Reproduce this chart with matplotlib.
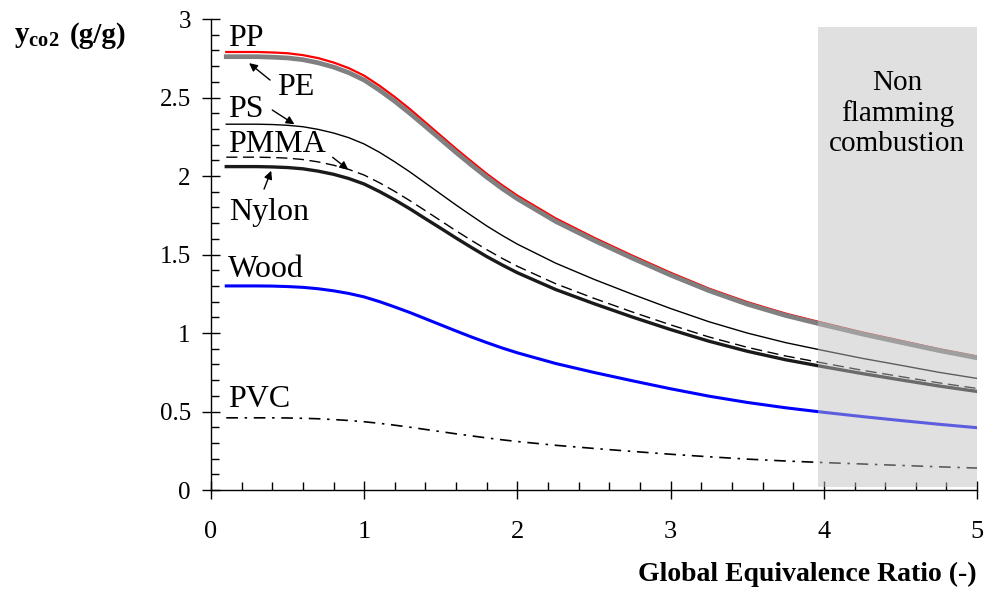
import matplotlib
matplotlib.use("Agg")
import matplotlib.pyplot as plt
from matplotlib.ticker import MultipleLocator

plt.rcParams['font.family'] = ['Liberation Serif', 'DejaVu Serif']
plt.rcParams['mathtext.fontset'] = 'custom'
plt.rcParams['mathtext.rm'] = 'Liberation Serif'
plt.rcParams['mathtext.bf'] = 'Liberation Serif:bold'

# Global equivalence ratio
phi = [0.1, 0.3, 0.4, 0.5, 0.6, 0.7, 0.8, 0.9, 1.0, 1.1, 1.2, 1.3, 1.4, 1.5, 1.6,
       1.7, 1.8, 1.9, 2.0, 2.25, 2.5, 2.75, 3.0, 3.25, 3.5, 3.75, 4.0, 4.25, 4.5,
       4.75, 5.0]

pp = [2.790, 2.790, 2.787, 2.782, 2.770, 2.751, 2.723, 2.687, 2.639, 2.575, 2.503,
      2.425, 2.341, 2.257, 2.173, 2.093, 2.014, 1.942, 1.875, 1.730, 1.607, 1.493,
      1.384, 1.283, 1.197, 1.124, 1.063, 1.004, 0.951, 0.898, 0.851]
pe = [2.760, 2.760, 2.757, 2.752, 2.741, 2.721, 2.694, 2.658, 2.611, 2.547, 2.476,
      2.398, 2.316, 2.233, 2.150, 2.070, 1.993, 1.921, 1.855, 1.711, 1.590, 1.477,
      1.369, 1.270, 1.184, 1.112, 1.052, 0.994, 0.941, 0.889, 0.842]
ps = [2.330, 2.330, 2.328, 2.323, 2.314, 2.297, 2.274, 2.244, 2.204, 2.151, 2.090,
      2.025, 1.955, 1.885, 1.815, 1.748, 1.682, 1.622, 1.566, 1.445, 1.342, 1.247,
      1.156, 1.072, 1.000, 0.939, 0.888, 0.839, 0.795, 0.750, 0.711]
pmma = [2.120, 2.120, 2.118, 2.114, 2.105, 2.090, 2.069, 2.042, 2.006, 1.957, 1.902,
        1.842, 1.779, 1.715, 1.651, 1.590, 1.531, 1.476, 1.425, 1.314, 1.221, 1.134,
        1.052, 0.975, 0.909, 0.854, 0.808, 0.763, 0.723, 0.683, 0.647]
nylon = [2.060, 2.060, 2.058, 2.054, 2.046, 2.031, 2.011, 1.984, 1.949, 1.901, 1.848,
         1.790, 1.728, 1.667, 1.605, 1.545, 1.487, 1.434, 1.384, 1.277, 1.187, 1.102,
         1.022, 0.948, 0.884, 0.830, 0.785, 0.742, 0.702, 0.663, 0.628]
wood = [1.300, 1.300, 1.299, 1.296, 1.291, 1.282, 1.269, 1.252, 1.230, 1.200, 1.166,
        1.130, 1.091, 1.052, 1.013, 0.975, 0.939, 0.905, 0.874, 0.806, 0.749, 0.696,
        0.645, 0.598, 0.558, 0.524, 0.495, 0.468, 0.443, 0.419, 0.397]
pvc = [0.460, 0.460, 0.460, 0.459, 0.457, 0.454, 0.449, 0.443, 0.435, 0.425, 0.413,
       0.400, 0.386, 0.372, 0.358, 0.345, 0.332, 0.320, 0.309, 0.285, 0.265, 0.246,
       0.228, 0.212, 0.197, 0.185, 0.175, 0.166, 0.157, 0.148, 0.140]

shade_x = (3.96, 5.0)
shade_y = (0.02, 2.95)

fig = plt.figure(figsize=(9.95, 5.94), dpi=100)
ax = fig.add_axes([0.212, 0.175, 0.770, 0.793])

ax.plot(phi, pp, color='#ff0000', lw=1.6, zorder=3)
ax.plot(phi, pe, color='#808080', lw=3.4, zorder=4)
ax.plot(phi, ps, color='black', lw=1.0, zorder=3)
ax.plot(phi, pmma, color='black', lw=1.0, ls=(0, (8, 4)), zorder=3)
ax.plot(phi, nylon, color='#1a1a1a', lw=2.4, zorder=3)
ax.plot(phi, wood, color='#0000ff', lw=2.2, zorder=3)
ax.plot(phi, pvc, color='black', lw=1.2, ls=(0, (7, 4, 1.5, 4)), zorder=3)

ax.fill_between(shade_x, shade_y[0], shade_y[1], color='#c0c0c0', alpha=0.49,
                lw=0, zorder=5)
ax.text(4.48, 2.40, "Non\nflamming\ncombustion", ha='center', va='center',
        fontsize=21, linespacing=1.2, zorder=6)

ax.set_xlim(0, 5)
ax.set_ylim(0, 3)
ax.xaxis.set_major_locator(MultipleLocator(1))
ax.xaxis.set_minor_locator(MultipleLocator(0.2))
ax.yaxis.set_minor_locator(MultipleLocator(0.1))
ax.set_yticks([0, 0.5, 1, 1.5, 2, 2.5, 3])
ax.set_yticklabels(['0', '0.5', '1', '1.5', '2', '2.5', '3'])
for s in ('top', 'right'):
    ax.spines[s].set_visible(False)
for s in ('left', 'bottom'):
    ax.spines[s].set_linewidth(1.0)
ax.tick_params(which='major', direction='inout', length=13, width=1.0)
ax.tick_params(axis='x', which='major', labelsize=19, pad=16)
ax.tick_params(axis='y', which='major', labelsize=18, pad=8)
ax.tick_params(which='minor', direction='in', length=6, width=1.0)

fs = 23
ax.text(0.11, 2.83, "PP", fontsize=fs, va='baseline', ha='left')
ax.text(0.43, 2.515, "PE", fontsize=fs, va='baseline', ha='left')
ax.text(0.11, 2.375, "PS", fontsize=fs, va='baseline', ha='left')
ax.text(0.11, 2.15, "PMMA", fontsize=fs, va='baseline', ha='left')
ax.text(0.12, 1.72, "Nylon", fontsize=fs, va='baseline', ha='left')
ax.text(0.11, 1.36, "Wood", fontsize=fs, va='baseline', ha='left')
ax.text(0.11, 0.53, "PVC", fontsize=fs, va='baseline', ha='left')

arrow = dict(arrowstyle='-|>', color='black', lw=1.0, mutation_scale=12)
ax.annotate("", xy=(0.235, 2.73), xytext=(0.40, 2.60), arrowprops=arrow)
ax.annotate("", xy=(0.56, 2.32), xytext=(0.385, 2.43), arrowprops=arrow)
ax.annotate("", xy=(0.91, 2.03), xytext=(0.78, 2.13), arrowprops=arrow)
ax.annotate("", xy=(0.40, 2.05), xytext=(0.34, 1.90), arrowprops=arrow)

fig.text(0.014, 0.929, r"$\mathbf{y_{co2}}$", fontsize=21, ha='left', va='baseline')
fig.text(0.070, 0.929, "(g/g)", fontsize=21, fontweight='bold', ha='left',
         va='baseline')
fig.text(0.982, 0.022, "Global Equivalence Ratio (-)", fontsize=20,
         fontweight='bold', ha='right', va='baseline')

fig.savefig("out.png", dpi=100)
